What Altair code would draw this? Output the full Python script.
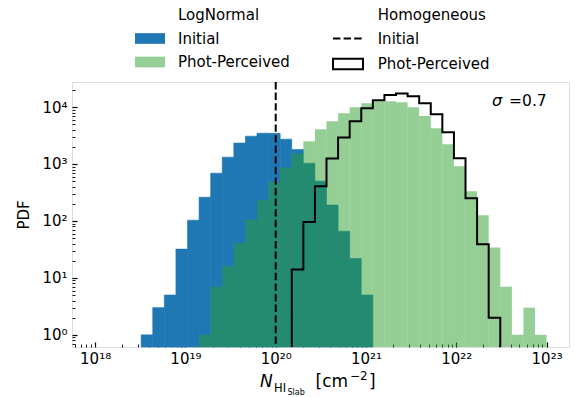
import altair as alt
import numpy as np
import pandas as pd

# ---------------- data ----------------
# common log-spaced histogram bins (log10 of the edges)
bin_log_min = 18.51
bin_log_max = 23.0
n_bins = 35

# LogNormal, Initial  (bins 0..19)
lognormal_initial_start = 0
lognormal_initial_counts = [1, 3, 5, 32, 103, 261, 690, 1320, 2330, 3080,
                            3480, 3450, 2730, 1800, 1030, 500, 190, 66, 22, 5]
# LogNormal, Phot-Perceived (bins 5..34)
lognormal_phot_start = 5
lognormal_phot_counts = [1, 7, 16, 41, 106, 234, 484, 868, 1530, 2515,
                         4090, 5650, 7810, 9960, 11700, 12700, 12700, 12200, 9960, 6940,
                         4260, 2230, 917, 333, 126, 34, 7, 1, 3, 1]
# Homogeneous, Phot-Perceived (bins 13..30, step outline)
homog_phot_start = 13
homog_phot_counts = [14, 96, 407, 1250, 2920, 5650, 9560, 13200, 16200, 17300,
                     15500, 11700, 7500, 3620, 1260, 251, 39, 2]
# Homogeneous, Initial (single column density)
homog_initial_value = [1e20]

ln_domain = ["LogNormal", "Initial", "Phot-Perceived"]
hom_domain = ["Homogeneous", "Initial", "Phot-Perceived"]

x_major = [1e18, 1e19, 1e20, 1e21, 1e22, 1e23]
x_major_labels = ["10¹⁸", "10¹⁹", "10²⁰", "10²¹", "10²²", "10²³"]
y_major = [1, 10, 100, 1000, 10000]
y_major_labels = ["10⁰", "10¹", "10²", "10³", "10⁴"]

x_title_parts = ["N", "HI", "Slab", "[cm", "\u22122", "]"]
y_title = "PDF"
sigma_label = ["\u03c3", "=0.7"]

# ---------------- scales ----------------
x_dom = [10 ** 17.744, 10 ** 23.248]
y_dom = [10 ** -0.214, 10 ** 4.44]
x_minor = [m * 10.0 ** e for e in range(17, 24) for m in range(2, 10)
           if x_dom[0] <= m * 10.0 ** e <= x_dom[1]]
y_minor = [m * 10.0 ** e for e in range(-1, 5) for m in range(2, 10)
           if y_dom[0] <= m * 10.0 ** e <= y_dom[1]]

edges = np.logspace(bin_log_min, bin_log_max, n_bins + 1)


def hist_df(start, counts, name):
    return pd.DataFrame({
        "x0": [edges[start + j] for j in range(len(counts))],
        "x1": [edges[start + j + 1] for j in range(len(counts))],
        "count": counts,
        "base": y_dom[0],
        "ln": name,
    })


blue_df = hist_df(lognormal_initial_start, lognormal_initial_counts, "Initial")
green_df = hist_df(lognormal_phot_start, lognormal_phot_counts, "Phot-Perceived")

s, n = homog_phot_start, len(homog_phot_counts)
step_x = [edges[s]] + [edges[s + j] for j in range(n)] + [edges[s + n], edges[s + n]]
step_y = [y_dom[0]] + homog_phot_counts + [homog_phot_counts[-1], y_dom[0]]
step_df = pd.DataFrame({"x": step_x, "y": step_y, "i": range(len(step_x)),
                        "hom": "Phot-Perceived"})
rule_df = pd.DataFrame({"x": homog_initial_value, "hom": "Initial"})

W, H = 497, 265
FONT = "DejaVu Sans"
xscale = alt.Scale(type="log", domain=x_dom, nice=False)
yscale = alt.Scale(type="log", domain=y_dom, nice=False)


def label_expr(values, labels):
    parts = [f"round(log(datum.value)/LN10) == {int(round(np.log10(v)))} ? '{l}'"
             for v, l in zip(values, labels)]
    return " : ".join(parts) + " : ''"


rect_path = "M-2.8,-1H2.8V1H-2.8Z"
line_path = "M-2.8,0H2.8"
blank_path = "M0,0"

legend_common = dict(title=None, orient="none", direction="vertical", symbolSize=114.5,
                     labelFont=FONT, labelFontSize=15, labelColor="black",
                     rowPadding=7.5, padding=0, legendY=-74.5)
leg1 = alt.Legend(legendX=70.5, labelOffset=20.5, symbolType=rect_path,
                  symbolStrokeWidth=0, **legend_common)
leg2 = alt.Legend(legendX=268.5, labelOffset=22.2, symbolStrokeWidth=2,
                  symbolFillColor="transparent", **legend_common)

color_scale = alt.Scale(domain=ln_domain,
                        range=["rgba(0,0,0,0)", "#1f77b4", "rgba(44,160,44,0.5)"])
stroke_scale = alt.Scale(domain=hom_domain, range=["rgba(0,0,0,0)", "black", "black"])
dash_scale = alt.Scale(domain=hom_domain, range=[[1, 0], [7.4, 3.2], [1, 0]])
shape_scale = alt.Scale(domain=hom_domain, range=[blank_path, line_path, rect_path])

x_label_axis = alt.Axis(orient="bottom", offset=-5, values=x_major, tickSize=5,
                        tickWidth=1.2, tickColor="black", domain=False, grid=False,
                        labelExpr=label_expr(x_major, x_major_labels), labelFont=FONT,
                        labelFontSize=15, labelColor="black", labelPadding=4,
                        labelFlush=False, labelOverlap=False, title=None)
y_label_axis = alt.Axis(orient="left", offset=-5, values=y_major, tickSize=5,
                        tickWidth=1.2, tickColor="black", domain=False, grid=False,
                        labelExpr=label_expr(y_major, y_major_labels), labelFont=FONT,
                        labelFontSize=15, labelColor="black", labelPadding=5,
                        labelFlush=False, labelOverlap=False,
                        title=y_title, titleFont=FONT, titleFontSize=15,
                        titleFontWeight="normal", titleColor="black", titlePadding=10)

blue = alt.Chart(blue_df).mark_rect(stroke="#1f77b4", strokeWidth=0.6).encode(
    x=alt.X("x0:Q", scale=xscale, axis=x_label_axis),
    x2="x1:Q",
    y=alt.Y("count:Q", scale=yscale, stack=None, axis=y_label_axis),
    y2="base:Q",
    color=alt.Color("ln:N", scale=color_scale, legend=leg1),
)

green = alt.Chart(green_df).mark_rect(strokeWidth=0).encode(
    x=alt.X("x0:Q", scale=xscale, axis=None),
    x2="x1:Q",
    y=alt.Y("count:Q", scale=yscale, stack=None, axis=None),
    y2="base:Q",
    color=alt.Color("ln:N", scale=color_scale, legend=leg1),
)

step = alt.Chart(step_df).mark_line(interpolate="step-after", strokeWidth=2, clip=True).encode(
    x=alt.X("x:Q", scale=xscale,
            axis=alt.Axis(orient="top", offset=-H, values=x_minor, tickSize=3, tickWidth=0.9,
                          tickColor="black", labels=False, domain=False, grid=False, title=None)),
    y=alt.Y("y:Q", scale=yscale,
            axis=alt.Axis(orient="right", offset=-W, values=y_minor, tickSize=3, tickWidth=0.9,
                          tickColor="black", labels=False, domain=False, grid=False, title=None)),
    order="i:Q",
    stroke=alt.Stroke("hom:N", scale=stroke_scale, legend=leg2),
    strokeDash=alt.StrokeDash("hom:N", scale=dash_scale, legend=leg2),
)

rule = alt.Chart(rule_df).mark_rule(strokeWidth=2).encode(
    x=alt.X("x:Q", scale=xscale, axis=None),
    stroke=alt.Stroke("hom:N", scale=stroke_scale, legend=leg2),
    strokeDash=alt.StrokeDash("hom:N", scale=dash_scale, legend=leg2),
)

pts = alt.Chart(step_df).mark_point(filled=False, opacity=1, strokeWidth=2).encode(
    shape=alt.Shape("hom:N", scale=shape_scale, legend=leg2),
    stroke=alt.Stroke("hom:N", scale=stroke_scale, legend=leg2),
    strokeDash=alt.StrokeDash("hom:N", scale=dash_scale, legend=leg2),
).transform_filter("false")


def txt(s, x, y, size, style="normal", align="left"):
    return alt.Chart(pd.DataFrame({"t": [s]})).mark_text(
        align=align, baseline="alphabetic", font=FONT, fontSize=size,
        fontStyle=style, color="black").encode(
        x=alt.value(x), y=alt.value(y), text="t:N")


texts = [
    txt(x_title_parts[0], 188, 305, 17, "italic"),
    txt(x_title_parts[1], 202, 309.5, 11.5),
    txt(x_title_parts[2], 215.5, 312.5, 8),
    txt(x_title_parts[3], 243.5, 305, 17),
    txt(x_title_parts[4], 278, 298, 12),
    txt(x_title_parts[5], 297, 305, 17),
    txt(sigma_label[0], 420, 24, 16, "italic"),
    txt(sigma_label[1], 474.7, 24, 15.5, "normal", "right"),
]

chart = alt.layer(blue, green, step, rule, pts, *texts).resolve_axis(
    x="independent", y="independent"
).properties(
    width=W, height=H,
    padding={"left": 72, "top": 82, "right": 6, "bottom": 50},
    autosize=alt.AutoSizeParams(type="none"),
).configure_view(stroke="black", strokeWidth=1.2).configure(background="white", font=FONT)

chart.save("out.html", embed_options={"renderer": "svg", "actions": False})
